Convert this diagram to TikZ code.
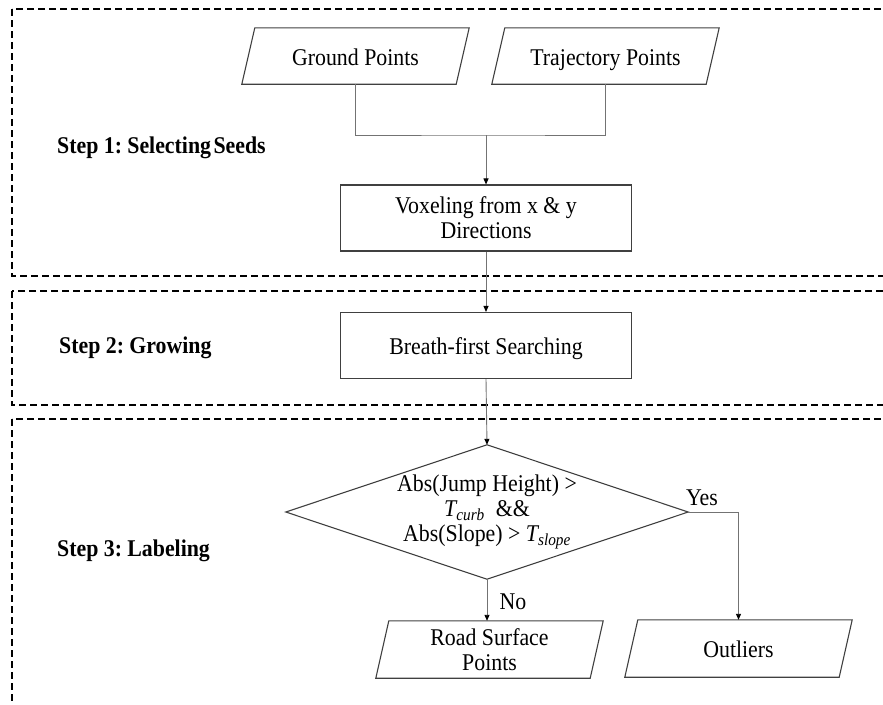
\documentclass[tikz,border=0pt]{standalone}
\usepackage{fontspec}
\setmainfont{Liberation Serif}[FakeStretch=0.91]
\usetikzlibrary{arrows.meta}

% slanted input/output box drawn around a named node
\newcommand\slantbox[1]{%
  \draw[draw=black!75, line width=1.1pt]
    ([xshift=13pt]#1.north west) -- (#1.north east)
    -- ([xshift=-13pt]#1.south east) -- (#1.south west) -- cycle;}

\begin{document}
\begin{tikzpicture}[x=1pt, y=-1pt,
  every node/.style={font=\fontsize{24}{25}\selectfont, inner sep=0pt},
  stage/.style={draw=black, line width=1.8pt, dash pattern=on 7pt off 4pt},
  procbox/.style={draw=black!75, line width=1.1pt, minimum width=291pt,
                  minimum height=66pt, align=center},
  databox/.style={minimum width=227pt, minimum height=56pt, align=center},
  oneline/.style={text height=22pt, text depth=4pt},
  decision/.style={minimum width=402pt, minimum height=134pt, align=center},
  link/.style={draw=black!55, line width=0.9pt},
  flow/.style={link, -{Triangle[length=6pt, width=5pt, color=black]}},
  steplabel/.style={anchor=west, font=\fontsize{24}{25}\selectfont\bfseries}]

\useasboundingbox (0,0) rectangle (883,704);
\clip (0,0) rectangle (883,704);

% stage frames
\draw[stage] (12,9)   rectangle (900,276);
\draw[stage] (12,291) rectangle (900,405);
\draw[stage] (12,419) rectangle (900,730);

% stage titles
\node[steplabel] (s1) at (57,148) {Step 1:\hspace{-2pt} Selecting\hspace{-3pt} Seeds};
\node[steplabel] (s2) at (59,348) {Step 2:\hspace{-2pt} Growing};
\node[steplabel] (s3) at (57,551) {Step 3:\hspace{-2pt} Labeling};

% inputs
\node[databox, oneline] (ground) at (355.5,56) {Ground Points};
\node[databox, oneline] (traj)   at (605.5,56) {Trajectory Points};
\slantbox{ground}
\slantbox{traj}

% processing
\node[procbox] (voxel) at (486,218)   {Voxeling from x \& y\\Directions};
\node[procbox, oneline] (bfs) at (486,345.5) {Breath-first Searching};

% decision
\node[decision] (decide) at (487,512)
  {Abs(Jump Height) >\\
   {\itshape T}\textsubscript{\itshape curb}\ \ \&\&\\
   Abs(Slope) > {\itshape T}\textsubscript{\itshape slope}};
\draw[draw=black!75, line width=1.1pt]
  (decide.north) -- (decide.east) -- (decide.south) -- (decide.west) -- cycle;

% outputs
\node[databox, minimum height=57pt] (road) at (489.5,649.5) {Road Surface\\Points};
\node[databox, minimum height=57pt, oneline] (outl) at (738.5,648.5) {Outliers};
\slantbox{road}
\slantbox{outl}

% connectors
\coordinate (join) at (486,135);
\draw[link] (ground.south) |- (join) -| (traj.south);
\draw[flow] (join) -- (voxel.north);
\draw[flow] (voxel.south) -- (bfs.north);
\draw[flow] (bfs.south) -- (decide.north);
\draw[flow] (decide.east) -| (outl.north);
\draw[flow] (decide.south) -- (decide.south |- road.north);

% branch labels
\node (yes) at (702,498) {Yes};
\node (no)  at (513,602) {No};
\end{tikzpicture}
\end{document}
